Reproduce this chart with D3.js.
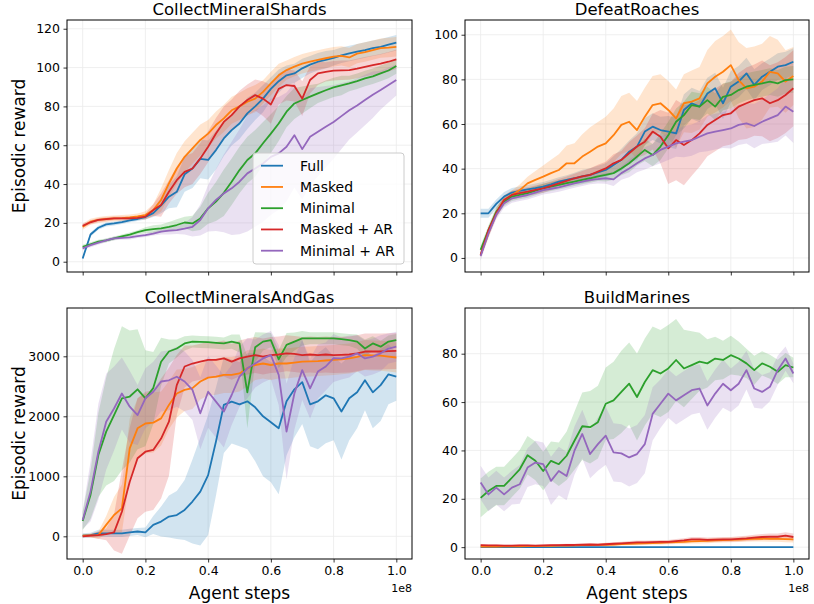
<!DOCTYPE html>
<html>
<head>
<meta charset="utf-8">
<script src="https://cdn.jsdelivr.net/npm/d3@7"></script>
<style>
  body { margin: 0; background: #fff; }
  text { font-family: "DejaVu Sans", sans-serif; fill: #000; }
</style>
</head>
<body>
<div id="chart"></div>
<script>
// Training steps, in millions (x axis is shown in units of 1e8)
const steps = [0, 2.5, 5, 7.5, 10, 12.5, 15, 17.5, 20, 22.5, 25, 27.5, 30, 32.5, 35, 37.5, 40, 42.5, 45, 47.5,
  50, 52.5, 55, 57.5, 60, 62.5, 65, 67.5, 70, 72.5, 75, 77.5, 80, 82.5, 85, 87.5, 90, 92.5, 95, 97.5, 100];

const seriesNames = ["Full", "Masked", "Minimal", "Masked + AR", "Minimal + AR"];
const seriesColors = ["#1f77b4", "#ff7f0e", "#2ca02c", "#d62728", "#9467bd"];

// CollectMineralShards: mean per series (order of seriesNames) and half-width of shaded band
const shardsMean = [
  [1.7, 14, 17.5, 19.2, 19.7, 20.4, 21.3, 22, 23, 25, 29, 33.5, 36, 45, 48, 53, 52.4, 57.5, 63.5, 67.8, 71.2, 76.4, 80, 84, 89, 93, 96, 97, 99.6, 101.5, 103, 104, 105, 106.3, 107.3, 108.2, 109, 110, 110.7, 111.8, 112.8],
  [18, 20.6, 21.5, 22, 22.3, 22.5, 22.8, 23.3, 24, 26.6, 31.8, 40.3, 48, 54, 58.4, 62.7, 66, 70.4, 73.8, 78, 80, 82.4, 84, 87.5, 91.8, 96, 98.7, 100.5, 102, 103, 103.9, 104.8, 105.6, 106, 105.2, 107.2, 108, 109, 110, 110.3, 110.7],
  [7.7, 9, 10.3, 11, 12, 13, 14, 15.2, 16.3, 16.8, 17.2, 18, 18.9, 20.2, 19.7, 22.3, 27.5, 31, 35.5, 41.2, 47.2, 52.4, 55.8, 61, 66, 71.2, 77.3, 81.5, 83.3, 85, 86.7, 88.3, 89.8, 90.8, 91.8, 93, 94.4, 95.5, 97, 98.5, 100.8],
  [18.5, 20.3, 21.5, 21.9, 22.3, 22.3, 22.3, 22.6, 23.2, 26.6, 29.2, 36, 42, 46.3, 48, 53.2, 59.2, 66, 72, 75.5, 80, 83.3, 85.8, 84, 81, 89, 91, 90.5, 84, 93.6, 97, 97.8, 98.4, 98.6, 98.7, 99.5, 100.4, 101.2, 102, 103, 104.2],
  [6.9, 8.5, 9.8, 11, 12, 12.3, 12.5, 13.2, 13.7, 14.5, 15.5, 16, 16.3, 17, 18, 21.5, 27.5, 31.8, 35.2, 37.8, 41.2, 45.5, 48, 50.6, 54, 55.8, 59.2, 65.2, 58, 64.4, 67, 69.5, 72, 75, 78, 80.5, 83.3, 86, 88.4, 91, 93.6]
];
const shardsBand = [
  [0.8, 1, 1, 1, 1, 1, 1, 1, 1.2, 2, 4, 6, 8, 9, 10, 10, 10, 10, 9, 8, 8, 8, 7, 7, 6, 6, 5, 5, 5, 4.5, 4.5, 4.5, 4, 4, 4, 4, 4, 4, 4, 4, 4],
  [1.5, 1.5, 1.5, 1.5, 1.5, 1.5, 1.5, 1.5, 2, 3, 6, 7, 8, 8, 8, 8, 7, 7, 7, 7, 7, 7, 7, 6, 6, 6, 5, 5, 5, 5, 5, 5, 5, 5, 5, 5, 5, 5, 5, 5, 5],
  [1, 1, 1, 1, 1, 1, 1, 1, 1.5, 2, 2, 2.5, 3, 3, 4, 6, 8, 10, 12, 12, 12, 12, 12, 11, 10, 9, 8, 8, 7, 6, 5, 5, 5, 5, 4, 4, 4, 4, 4, 4, 4],
  [1, 1, 1, 1, 1, 1, 1, 1, 1.5, 3, 6, 6, 7, 8, 8, 8, 8, 8, 8, 8, 8, 8, 8, 9, 10, 8, 8, 8, 9, 7, 6, 5, 5, 5, 5, 5, 5, 5, 5, 5, 5],
  [1, 1, 1, 1, 1, 1, 1, 1, 1, 1, 1.5, 2, 2, 3, 5, 8, 12, 16, 20, 24, 27, 30, 30, 30, 30, 29, 28, 27, 26, 25, 23, 21, 19, 17, 15, 14, 13, 12, 10, 9, 8]
];

// DefeatRoaches
const roachesMean = [
  [20, 20, 24.2, 27.5, 29.3, 30, 30.7, 31.3, 32, 33, 34.2, 35, 35.7, 36.5, 37.2, 38.3, 39.4, 41.6, 43.9, 47.6, 49.9, 56.6, 58.8, 57.3, 56.6, 55.8, 66.3, 69.3, 67.8, 73.7, 76, 69.3, 76.7, 79, 82.7, 77.5, 81.2, 83.4, 85.7, 86.4, 87.9],
  [1.3, 11, 20, 26, 28.2, 30.4, 33.4, 35, 36.4, 38, 39.4, 42.4, 42.4, 45.4, 47.6, 49.9, 51.3, 55, 59.6, 61, 57.3, 63.3, 68.5, 69.3, 66.3, 62.5, 69.3, 70, 71.5, 78.2, 81.2, 83.4, 86.4, 79.7, 76, 76.7, 79, 83.4, 82.7, 79, 81.5],
  [3.6, 12.5, 20.7, 25.2, 27.5, 28.3, 29, 30.1, 31.2, 32, 32.7, 33.5, 34.2, 35, 35.7, 36.5, 37.2, 38, 40.1, 42.4, 45.4, 48.4, 46.1, 49.9, 55, 61, 64, 68.5, 67.8, 70.7, 67.8, 72.2, 73, 75.2, 76.7, 77.5, 78.2, 79, 78.2, 79.7, 80],
  [1.3, 12.5, 20, 26, 28.2, 29, 29.7, 30.5, 31.2, 32.3, 33.4, 34.5, 35.7, 36.5, 37.2, 38.7, 40.1, 42.4, 43.9, 46.9, 49.9, 52.1, 56.6, 54.3, 49.1, 52.8, 50.6, 52.8, 55.8, 59.6, 61.8, 64, 64.8, 67.8, 69.3, 70.7, 71.5, 69.3, 70.7, 73, 76],
  [0.9, 11, 19.3, 24.5, 26.7, 27.5, 28.2, 29.3, 30.4, 31, 31.6, 32.5, 33.4, 34.2, 35, 35.3, 35.7, 35.2, 38, 40.1, 42.4, 44.6, 46.1, 48.4, 49.9, 51.3, 52.1, 52.8, 54.3, 55.8, 56.6, 57.3, 58, 59.6, 60.3, 59.1, 61, 62.5, 64, 67.8, 65.5]
];
const roachesBand = [
  [2, 2, 2, 2, 2, 2, 2, 2, 2, 2, 2, 2, 2.5, 3, 3, 3, 3, 4, 5, 5, 6, 6, 6, 6, 7, 7, 7, 7, 7, 7, 7, 7, 7, 7, 7, 7, 6, 6, 6, 6, 6],
  [1, 2, 2, 2, 2, 2.5, 3, 4, 5, 6, 7, 8, 9, 10, 11, 11, 12, 12, 13, 13, 13, 13, 13, 13, 13, 13, 13, 14, 14, 15, 16, 16, 16, 17, 18, 18, 17, 16, 15, 14, 13],
  [2, 2, 2, 2, 2, 2, 2, 2, 2, 2, 2, 2, 2, 2, 2, 2, 3, 3, 3, 4, 4, 5, 5, 6, 6, 6, 6, 6, 6, 6, 6, 6, 6, 6, 6, 6, 6, 6, 6, 6, 6],
  [1, 1.5, 2, 2, 2, 2, 2, 2, 2, 2, 2, 2, 2, 2.5, 3, 3, 3, 4, 4, 5, 5, 6, 8, 12, 16, 18, 18, 16, 15, 14, 14, 14, 14, 15, 16, 16, 17, 17, 17, 17, 17],
  [2, 2, 2, 2, 2, 2, 2, 2, 2, 2, 2, 2, 2, 2, 2, 2, 2.5, 3, 3, 4, 4, 5, 5, 6, 6, 6, 7, 7, 7, 8, 8, 8, 9, 9, 9, 10, 10, 11, 12, 13, 14]
];

// CollectMineralsAndGas
const gasMean = [
  [10, 20, 50, 50, 50, 50, 65, 80, 65, 190, 245, 330, 355, 440, 580, 745, 1020, 1580, 2190, 2245, 2200, 2250, 2150, 2000, 1900, 1800, 2250, 2450, 2570, 2200, 2250, 2350, 2300, 2080, 2300, 2400, 2600, 2400, 2520, 2700, 2660],
  [10, 15, 20, 190, 355, 465, 1465, 1800, 1880, 1895, 1965, 2190, 2380, 2440, 2470, 2580, 2645, 2660, 2690, 2690, 2715, 2800, 2855, 2880, 2855, 2880, 2880, 2895, 2910, 2915, 2920, 2930, 2940, 2950, 2965, 2990, 3020, 3015, 3010, 2995, 2980],
  [255, 690, 1355, 1745, 2020, 2300, 2330, 2450, 2300, 2470, 2910, 3080, 3130, 3215, 3245, 3240, 3235, 3225, 3215, 3245, 3215, 2400, 3150, 3245, 3270, 2950, 3190, 3245, 3300, 3300, 3300, 3300, 3300, 3285, 3270, 3245, 3130, 3215, 3160, 3245, 3270],
  [0, 10, 20, 35, 65, 410, 910, 1300, 1410, 1440, 1630, 1910, 2520, 2830, 2880, 2910, 2940, 2940, 2965, 2910, 2965, 2995, 3020, 2995, 3020, 3030, 3050, 3040, 3020, 3030, 3020, 3030, 3020, 3025, 3030, 3050, 3080, 3080, 3080, 3085, 3090],
  [270, 745, 1410, 1910, 2130, 2380, 2160, 2020, 2300, 2410, 2580, 2600, 2660, 2580, 2440, 2050, 2410, 2245, 2080, 2355, 2660, 2800, 2880, 2965, 3020, 2690, 1745, 2380, 2770, 2465, 2745, 2830, 2970, 2965, 2995, 3050, 2965, 2995, 3050, 3130, 3160]
];
const gasBand = [
  [40, 40, 60, 60, 60, 60, 60, 60, 80, 150, 250, 350, 400, 500, 700, 900, 1000, 900, 800, 700, 700, 800, 900, 1000, 1000, 1100, 900, 800, 700, 700, 800, 800, 700, 800, 700, 600, 500, 600, 600, 500, 400],
  [20, 30, 60, 150, 300, 400, 500, 500, 500, 500, 450, 400, 400, 350, 350, 300, 300, 300, 300, 300, 300, 300, 250, 250, 250, 250, 250, 250, 250, 250, 250, 250, 250, 250, 250, 250, 250, 250, 250, 250, 250],
  [150, 400, 700, 900, 1100, 1200, 1100, 1000, 800, 600, 400, 200, 150, 120, 100, 100, 100, 100, 100, 120, 150, 600, 250, 150, 120, 150, 200, 150, 120, 100, 100, 100, 100, 100, 100, 120, 150, 120, 100, 100, 100],
  [20, 30, 60, 100, 300, 700, 900, 1000, 1000, 1000, 1000, 900, 500, 350, 300, 300, 300, 300, 300, 300, 300, 300, 300, 300, 300, 300, 300, 300, 300, 300, 300, 300, 300, 300, 300, 300, 300, 300, 300, 300, 300],
  [150, 500, 800, 800, 700, 600, 600, 500, 500, 500, 500, 500, 500, 500, 500, 600, 600, 600, 600, 500, 500, 500, 400, 400, 400, 500, 800, 600, 500, 500, 450, 400, 400, 350, 350, 300, 300, 300, 300, 250, 250]
];

// BuildMarines
const marinesMean = [
  [0, 0, 0, 0, 0, 0, 0, 0, 0, 0, 0, 0, 0, 0, 0, 0, 0, 0, 0, 0, 0, 0, 0, 0, 0, 0, 0, 0, 0, 0, 0, 0, 0, 0, 0, 0, 0, 0, 0, 0, 0],
  [0.2, 0.2, 0.2, 0.3, 0.3, 0.3, 0.4, 0.4, 0.5, 0.5, 0.6, 0.6, 0.7, 0.8, 0.8, 0.9, 1, 1.1, 1.3, 1.4, 1.5, 1.6, 1.7, 1.8, 2, 2.1, 2.2, 2.4, 2.5, 2.6, 2.8, 2.9, 3, 3.1, 3.3, 3.4, 3.5, 3.4, 3.4, 3.3, 3.2],
  [20.4, 23.2, 25.3, 25.3, 28.7, 32.2, 38, 35.7, 31.5, 35.7, 34.3, 37.8, 44, 50, 49.6, 51.7, 59.3, 60.7, 64.2, 67.6, 62.1, 68.3, 73.2, 71.8, 73.9, 77.4, 73.9, 75.3, 76.7, 76, 78, 77.4, 79.4, 78, 76, 73.2, 76, 74.6, 72.5, 75.3, 74.3],
  [0.8, 0.7, 0.7, 0.6, 0.6, 0.7, 0.7, 0.6, 0.7, 0.8, 0.8, 0.9, 0.9, 1, 1.1, 1, 1.2, 1.4, 1.6, 1.8, 2, 2, 2.1, 2.2, 2.2, 2.5, 2.8, 3.2, 3.2, 3, 3.1, 3.2, 3.2, 3.4, 3.6, 3.9, 4.2, 4.3, 4.3, 4.8, 4.2],
  [26.7, 21.8, 24.6, 21.8, 24.6, 26, 32.9, 35, 34.3, 27.4, 31.5, 29.4, 39.9, 46.8, 38.5, 42.6, 46.1, 39.2, 38.8, 37.1, 38.5, 42.6, 55.1, 59.3, 63.5, 60.7, 62.8, 64.9, 65.6, 58.6, 63.5, 67.6, 64.9, 67.6, 73.2, 65.6, 64.2, 66.3, 73.2, 78, 71.8]
];
const marinesBand = [
  [0, 0, 0, 0, 0, 0, 0, 0, 0, 0, 0, 0, 0, 0, 0, 0, 0, 0, 0, 0, 0, 0, 0, 0, 0, 0, 0, 0, 0, 0, 0, 0, 0, 0, 0, 0, 0, 0, 0, 0, 0],
  [0.3, 0.3, 0.3, 0.3, 0.3, 0.3, 0.3, 0.3, 0.4, 0.4, 0.4, 0.4, 0.4, 0.5, 0.5, 0.5, 0.5, 0.6, 0.6, 0.6, 0.7, 0.7, 0.7, 0.8, 0.8, 0.8, 0.9, 0.9, 1, 1, 1, 1, 1, 1, 1.1, 1.1, 1.2, 1.2, 1.2, 1.3, 1.3],
  [8, 8, 8, 8, 8, 8, 8, 8, 8, 8, 9, 10, 12, 14, 15, 15, 15, 16, 17, 17, 18, 18, 18, 18, 18, 17, 16, 14, 12, 10, 9, 8, 8, 7, 6, 6, 5, 5, 5, 5, 4],
  [0.4, 0.4, 0.4, 0.4, 0.4, 0.4, 0.4, 0.4, 0.4, 0.4, 0.5, 0.5, 0.5, 0.5, 0.5, 0.5, 0.6, 0.6, 0.6, 0.7, 0.7, 0.7, 0.8, 0.8, 0.8, 0.9, 0.9, 1, 1, 1, 1, 1, 1, 1.1, 1.1, 1.2, 1.2, 1.3, 1.3, 1.4, 1.4],
  [7, 7, 7, 7, 7, 8, 8, 9, 9, 10, 10, 10, 10, 10, 10, 11, 12, 12, 12, 12, 12, 12, 11, 10, 10, 10, 10, 10, 10, 10, 10, 10, 9, 9, 8, 8, 7, 6, 6, 5, 4]
];

const xTicks = [0, 0.2e8, 0.4e8, 0.6e8, 0.8e8, 1.0e8];

const panels = [
  { title: "CollectMineralShards", mean: shardsMean, band: shardsBand,
    box: [67, 412, 20, 272], yDomain: [-5.3, 124.5], yTicks: [0, 20, 40, 60, 80, 100, 120],
    yLabel: true, xLabels: false, legend: true },
  { title: "DefeatRoaches", mean: roachesMean, band: roachesBand,
    box: [465, 809, 20, 272], yDomain: [-6.3, 106.6], yTicks: [0, 20, 40, 60, 80, 100],
    yLabel: false, xLabels: false, legend: false },
  { title: "CollectMineralsAndGas", mean: gasMean, band: gasBand,
    box: [67, 412, 308, 559], yDomain: [-378, 3805], yTicks: [0, 1000, 2000, 3000],
    yLabel: true, xLabels: true, legend: false },
  { title: "BuildMarines", mean: marinesMean, band: marinesBand,
    box: [465, 809, 308, 559], yDomain: [-4.9, 98.9], yTicks: [0, 20, 40, 60, 80],
    yLabel: false, xLabels: true, legend: false }
];

const svg = d3.select("#chart")
  .append("svg")
  .attr("width", 814)
  .attr("height", 604);

panels.forEach((p, pi) => {
  const [left, right, top, bottom] = p.box;
  const x = d3.scaleLinear().domain([-0.05e8, 1.05e8]).range([left, right]);
  const y = d3.scaleLinear().domain(p.yDomain).range([bottom, top]);

  const clipId = `clip-${pi}`;
  svg.append("clipPath").attr("id", clipId)
    .append("rect")
    .attr("x", left).attr("y", top)
    .attr("width", right - left).attr("height", bottom - top);

  // grid
  const grid = svg.append("g");
  grid.selectAll("line.gx")
    .data(xTicks)
    .enter().append("line")
    .attr("x1", (d) => x(d)).attr("x2", (d) => x(d))
    .attr("y1", top).attr("y2", bottom)
    .attr("stroke", "#ebebeb").attr("stroke-width", 0.8);
  grid.selectAll("line.gy")
    .data(p.yTicks)
    .enter().append("line")
    .attr("x1", left).attr("x2", right)
    .attr("y1", (d) => y(d)).attr("y2", (d) => y(d))
    .attr("stroke", "#ebebeb").attr("stroke-width", 0.8);

  const plot = svg.append("g").attr("clip-path", `url(#${clipId})`);

  const area = d3.area()
    .x((d) => x(d.step))
    .y0((d) => y(d.mean - d.band))
    .y1((d) => y(d.mean + d.band));
  const line = d3.line()
    .x((d) => x(d.step))
    .y((d) => y(d.mean));

  const rows = p.mean.map((vals, si) =>
    vals.map((v, i) => ({ step: steps[i] * 1e6, mean: v, band: p.band[si][i] }))
  );

  rows.forEach((r, si) => {
    plot.append("path")
      .attr("d", area(r))
      .attr("fill", seriesColors[si])
      .attr("fill-opacity", 0.2);
  });
  rows.forEach((r, si) => {
    plot.append("path")
      .attr("d", line(r))
      .attr("fill", "none")
      .attr("stroke", seriesColors[si])
      .attr("stroke-width", 1.8)
      .attr("stroke-linejoin", "round");
  });

  // axes
  const xAxis = svg.append("g")
    .attr("transform", `translate(0,${bottom})`)
    .call(d3.axisBottom(x).tickValues(xTicks).tickSize(3.5).tickPadding(3.5)
      .tickFormat((d) => p.xLabels ? (d / 1e8).toFixed(1) : ""));
  const yAxis = svg.append("g")
    .attr("transform", `translate(${left},0)`)
    .call(d3.axisLeft(y).tickValues(p.yTicks).tickSize(3.5).tickPadding(3.5)
      .tickFormat(d3.format("d")));

  [xAxis, yAxis].forEach((g) => {
    g.select(".domain").remove();
    g.selectAll("line").attr("stroke", "#000").attr("stroke-width", 0.8);
    g.selectAll("text")
      .style("font-family", "'DejaVu Sans', sans-serif")
      .style("font-size", "12.5px")
      .attr("fill", "#000");
  });

  svg.append("rect")
    .attr("x", left).attr("y", top)
    .attr("width", right - left).attr("height", bottom - top)
    .attr("fill", "none")
    .attr("stroke", "#000")
    .attr("stroke-width", 1);

  svg.append("text")
    .attr("x", (left + right) / 2)
    .attr("y", top - 5)
    .attr("text-anchor", "middle")
    .style("font-size", "16.5px")
    .text(p.title);

  if (p.yLabel) {
    svg.append("text")
      .attr("transform", `translate(25,${(top + bottom) / 2}) rotate(-90)`)
      .attr("text-anchor", "middle")
      .style("font-size", "17px")
      .text("Episodic reward");
  }

  if (p.xLabels) {
    svg.append("text")
      .attr("x", (left + right) / 2)
      .attr("y", bottom + 40)
      .attr("text-anchor", "middle")
      .style("font-size", "17px")
      .text("Agent steps");

    svg.append("text")
      .attr("x", right)
      .attr("y", bottom + 33)
      .attr("text-anchor", "end")
      .style("font-size", "11px")
      .text("1e8");
  }

  if (p.legend) {
    const lg = svg.append("g");
    lg.append("rect")
      .attr("x", 253).attr("y", 153)
      .attr("width", 151).attr("height", 111)
      .attr("rx", 3)
      .attr("fill", "#fff").attr("fill-opacity", 0.8)
      .attr("stroke", "#cccccc").attr("stroke-width", 1);
    seriesNames.forEach((name, si) => {
      const ly = 165.7 + si * 21.25;
      lg.append("line")
        .attr("x1", 261).attr("x2", 283)
        .attr("y1", ly).attr("y2", ly)
        .attr("stroke", seriesColors[si])
        .attr("stroke-width", 1.8);
      lg.append("text")
        .attr("x", 300).attr("y", ly)
        .attr("dominant-baseline", "central")
        .style("font-size", "14px")
        .text(name);
    });
  }
});
</script>
</body>
</html>
